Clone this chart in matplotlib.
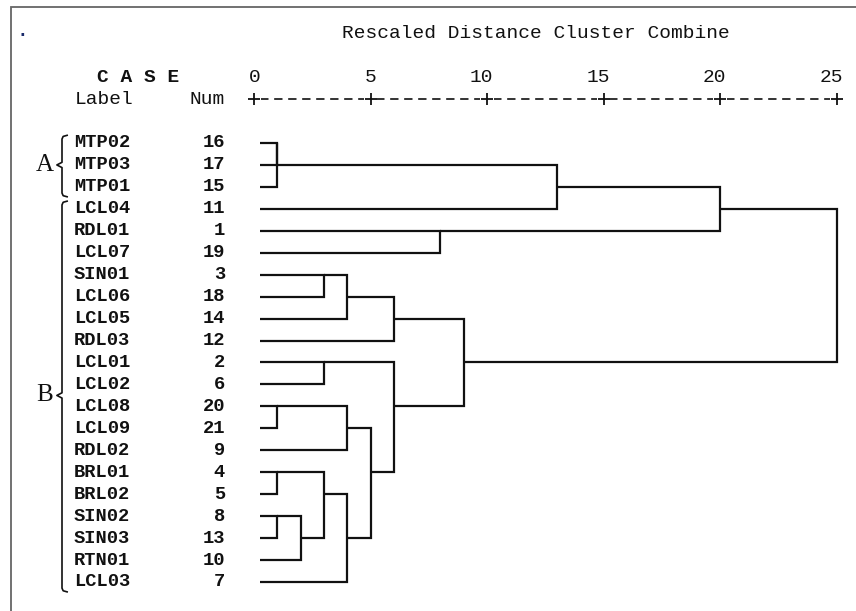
import math
import matplotlib
matplotlib.use('Agg')
import matplotlib.pyplot as plt

# ── data ─────────────────────────────────────────────────────────
labels = ['MTP02', 'MTP03', 'MTP01', 'LCL04', 'RDL01', 'LCL07', 'SIN01',
          'LCL06', 'LCL05', 'RDL03', 'LCL01', 'LCL02', 'LCL08', 'LCL09',
          'RDL02', 'BRL01', 'BRL02', 'SIN02', 'SIN03', 'RTN01', 'LCL03']
case_nums = [16, 17, 15, 11, 1, 19, 3, 18, 14, 12, 2, 6, 20, 21, 9,
             4, 5, 8, 13, 10, 7]

# merges: (node a, node b, rescaled distance); leaves are 0..20 in
# display order, each merge creates node 21, 22, ...
merge_a = [0, 21, 22, 4, 23, 6, 26, 27, 10, 12, 30, 15, 17, 33, 32, 35, 31, 29, 28, 25]
merge_b = [1, 2, 3, 5, 24, 7, 8, 9, 11, 13, 14, 16, 18, 19, 34, 20, 36, 37, 38, 39]
merge_d = [1, 1, 13, 8, 20, 3, 4, 6, 3, 1, 4, 1, 1, 2, 3, 4, 5, 6, 9, 25]

ticks = [0, 5, 10, 15, 20, 25]
groups = ['A', 'B']
group_first = [0, 3]
group_last = [2, 20]

# ── layout (pixels of the 856x611 canvas) ────────────────────────
W, H = 856, 611
X0, UNIT = 254.0, 23.3      # pixel of distance 0, pixels per unit
Y0, ROW = 143.0, 21.95      # pixel of first row, pixels per row
LEAF_START = 0.25
MONO = ['Liberation Mono', 'DejaVu Sans Mono']
SERIF = ['Liberation Serif', 'DejaVu Serif']
INK = '#111111'


def px(x):
    return (x - X0) / UNIT


def py(y):
    return (y - Y0) / ROW


fig = plt.figure(figsize=(W / 100, H / 100), dpi=100)
ax = fig.add_axes([0, 0, 1, 1])
ax.set_xlim(px(0), px(W))
ax.set_ylim(py(H), py(0))
ax.axis('off')

# frame (top and left only, as in the scan)
ax.plot([px(11), px(11), px(W)], [py(H), py(7), py(7)], color='#666666',
        lw=1.3, solid_joinstyle='miter')
ax.text(px(22), py(31), '.', fontsize=11, color='#1a2a6a',
        ha='center', va='center', fontweight='bold')

# header
ax.text(px(342), -5, 'Rescaled Distance Cluster Combine', family=MONO,
        fontsize=14, ha='left', va='center', color=INK)
ax.text(px(97), -3, 'C A S E', family=MONO, fontsize=14, fontweight='bold',
        ha='left', va='center', color=INK)
ax.text(px(75), -2, 'Label', family=MONO, fontsize=14,
        ha='left', va='center', color=INK)
ax.text(px(225), -2, 'Num', family=MONO, fontsize=14,
        ha='right', va='center', color=INK)

# axis "+---------+---------+ ..."
for t in ticks:
    ax.text(t + 0.27, -3, str(t), family=MONO, fontsize=14,
            ha='right', va='center', color=INK)
ax.plot(ticks, [-2] * len(ticks), ls='none', marker='+', ms=8, mew=1.3,
        color=INK)
char = 0.5  # one character cell in distance units
for a, b in zip(ticks[:-1], ticks[1:]):
    ax.plot([a + char * 0.6, b - char * 0.6], [-2, -2], color=INK, lw=1.2,
            ls=(0.5, (5.0, 3.4)), dash_capstyle='butt')

# case labels and numbers
for i, (lab, num) in enumerate(zip(labels, case_nums)):
    ax.text(px(74), i, lab, family=MONO, fontsize=13.5, fontweight='bold',
            ha='left', va='center', color=INK)
    ax.text(px(225), i, str(num), family=MONO, fontsize=13.5,
            fontweight='bold', ha='right', va='center', color=INK)

# group braces
for g, r0, r1 in zip(groups, group_first, group_last):
    top, bot, mid = r0 - 0.3, r1 + 0.4, (r0 + r1) / 2
    bx = px(62)
    dx = 0.22
    ys = [top - 0.05, top, top + 0.12, mid - 0.12, mid, mid + 0.12,
          bot - 0.12, bot, bot + 0.05]
    xs = [bx + dx, bx + 0.05, bx, bx, bx - dx, bx, bx, bx + 0.05, bx + dx]
    ax.plot(xs, ys, color=INK, lw=1.2, solid_joinstyle='round')
    ax.text(px(45), mid, g, family=SERIF, fontsize=18, ha='center',
            va='center', color=INK)

# dendrogram
pos = {i: (i, LEAF_START) for i in range(len(labels))}
node = len(labels)
for a, b, d in zip(merge_a, merge_b, merge_d):
    ra, da = pos[a]
    rb, db = pos[b]
    ax.plot([da, d, d, db], [ra, ra, rb, rb], color=INK, lw=1.6,
            solid_joinstyle='miter', solid_capstyle='butt')
    pos[node] = (math.floor((ra + rb) / 2), d)
    node += 1

fig.savefig('out.png', dpi=100)
